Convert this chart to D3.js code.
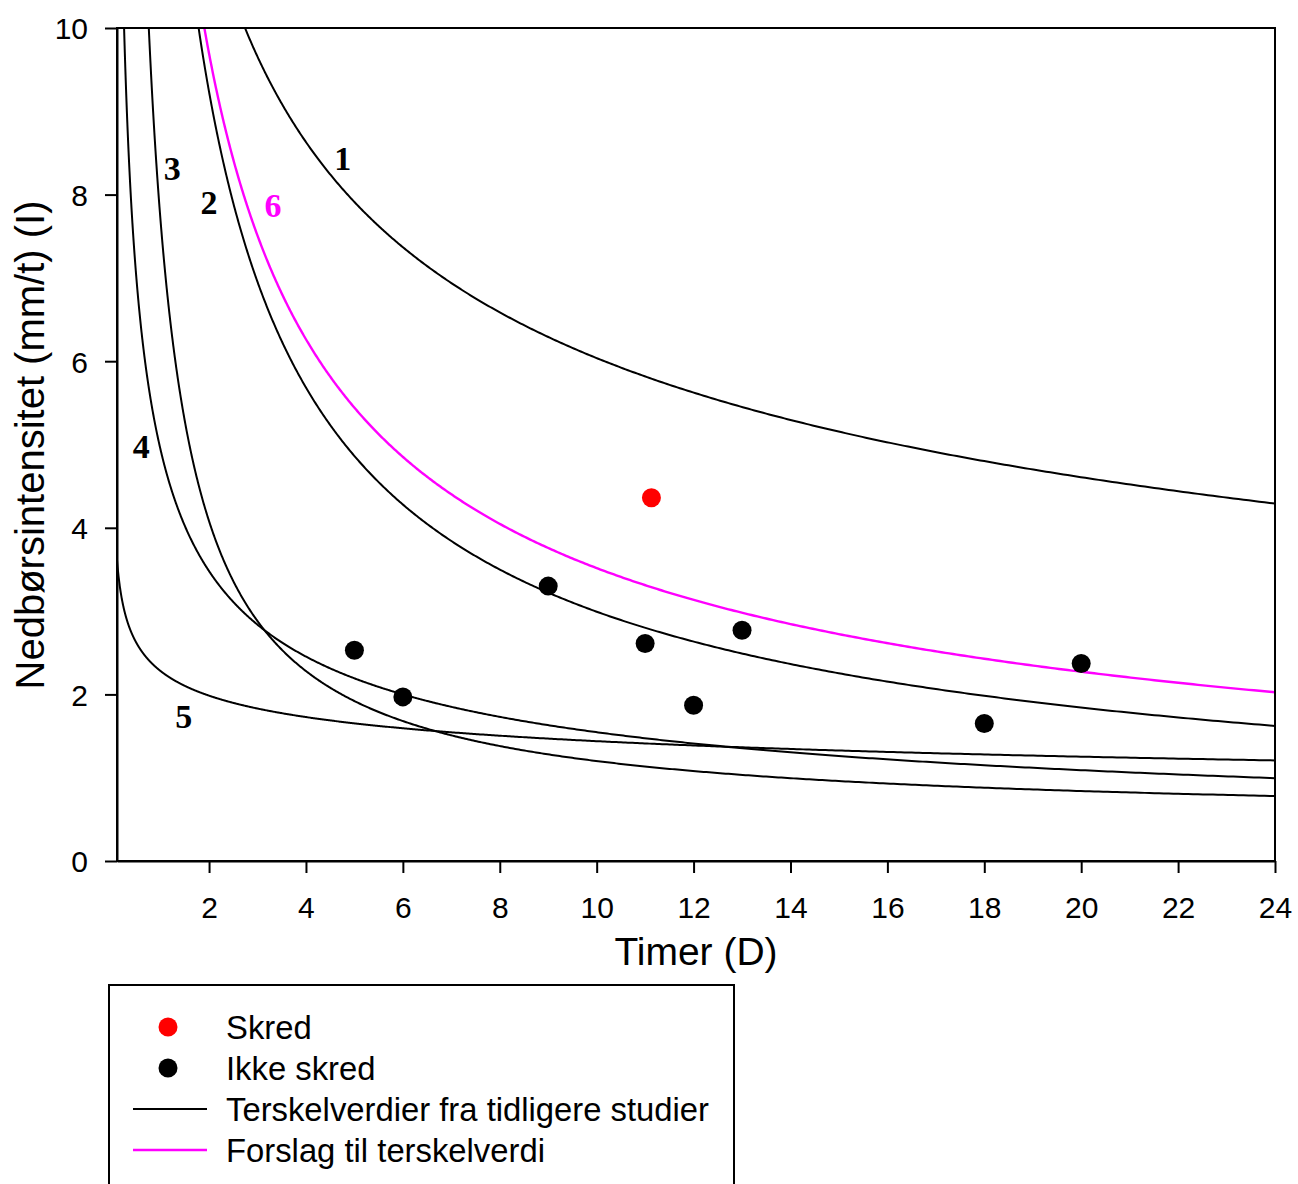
<!DOCTYPE html>
<html>
<head>
<meta charset="utf-8">
<script src="https://cdn.jsdelivr.net/npm/d3@7"></script>
<style>
  html, body { margin: 0; padding: 0; background: #fff; }
  svg { display: block; }
</style>
</head>
<body>
<svg id="chart" width="1298" height="1184"></svg>
<script>
// ---- data ----
const xTickValues = [2, 4, 6, 8, 10, 12, 14, 16, 18, 20, 22, 24];
const yTickValues = [0, 2, 4, 6, 8, 10];

// threshold curves: I = c + a * D^(-b)
const curveIds = ["1", "2", "3", "4", "5", "6"];
const curveA = [14.82, 15, 7.2, 4.935, 2.28, 15];
const curveB = [0.39, 0.7, 1.0, 0.504, 0.20, 0.63];
const curveC = [0, 0, 0.48, 0, 0, 0];
const curveProposed = [false, false, false, false, false, true];

// curve label positions (D, I)
const labelD = [4.76, 2.0, 1.24, 0.60, 1.48, 3.32];
const labelI = [8.43, 7.9, 8.32, 4.98, 1.74, 7.875];

// observations
const skredD = [11.13];
const skredI = [4.36];
const ikkeD = [5, 6, 9, 11, 12, 13, 18, 20];
const ikkeI = [2.53, 1.97, 3.30, 2.61, 1.87, 2.77, 1.65, 2.37];

const legendLabels = ["Skred", "Ikke skred", "Terskelverdier fra tidligere studier", "Forslag til terskelverdi"];

// ---- drawing ----
const svg = d3.select("#chart");
const L = 117, R = 1275, T = 28, B = 861;
const x = d3.scaleLinear().domain([0.1, 24]).range([L, R]);
const y = d3.scaleLinear().domain([0, 10]).range([B, T]);

svg.append("defs").append("clipPath").attr("id", "clip")
  .append("rect").attr("x", L).attr("y", T).attr("width", R - L).attr("height", B - T);

const sampleD = d3.range(0, 1201).map(i => 0.1 * Math.pow(240, i / 1200));
const line = d3.line().x(d => x(d[0])).y(d => y(d[1]));

const plot = svg.append("g").attr("clip-path", "url(#clip)");
curveIds.forEach((id, k) => {
  const pts = sampleD.map(D => [D, Math.min(12, curveC[k] + curveA[k] * Math.pow(D, -curveB[k]))]);
  plot.append("path")
    .attr("d", line(pts))
    .attr("fill", "none")
    .attr("stroke", curveProposed[k] ? "#ff00ff" : "#000")
    .attr("stroke-width", curveProposed[k] ? 2.4 : 2);
});

// points
plot.selectAll("circle.ikke").data(ikkeD).join("circle")
  .attr("class", "ikke")
  .attr("cx", (d) => x(d)).attr("cy", (d, i) => y(ikkeI[i])).attr("r", 9.5).attr("fill", "#000");
plot.selectAll("circle.skred").data(skredD).join("circle")
  .attr("class", "skred")
  .attr("cx", (d) => x(d)).attr("cy", (d, i) => y(skredI[i])).attr("r", 9.5).attr("fill", "#ff0000");

// curve labels
svg.selectAll("text.clabel").data(curveIds).join("text")
  .attr("class", "clabel")
  .attr("x", (d, i) => x(labelD[i]))
  .attr("y", (d, i) => y(labelI[i]))
  .attr("dy", "0.34em")
  .attr("text-anchor", "middle")
  .attr("font-family", "'Liberation Serif', 'Times New Roman', serif")
  .attr("font-weight", "bold")
  .attr("font-size", 34)
  .attr("fill", (d, i) => curveProposed[i] ? "#ff00ff" : "#000")
  .text(d => d);

// frame
svg.append("rect").attr("x", L).attr("y", T).attr("width", R - L).attr("height", B - T)
  .attr("fill", "none").attr("stroke", "#000").attr("stroke-width", 2);

// axes
const xAxis = d3.axisBottom(x).tickValues(xTickValues).tickSize(12).tickSizeOuter(0).tickPadding(24);
const gx = svg.append("g").attr("transform", `translate(0,${B})`).call(xAxis);
const yAxis = d3.axisLeft(y).tickValues(yTickValues).tickSize(12).tickSizeOuter(0).tickPadding(17);
const gy = svg.append("g").attr("transform", `translate(${L},0)`).call(yAxis);
[gx, gy].forEach(g => {
  g.select(".domain").attr("stroke", "#000").attr("stroke-width", 2);
  g.selectAll(".tick line").attr("stroke", "#000").attr("stroke-width", 2);
  g.selectAll(".tick text").attr("fill", "#000")
    .attr("font-family", "'Liberation Sans', Arial, sans-serif").attr("font-size", 30);
});
gy.selectAll(".tick text").attr("dy", "0.36em");

// axis titles
svg.append("text").attr("x", 696).attr("y", 965)
  .attr("text-anchor", "middle")
  .attr("font-family", "'Liberation Sans', Arial, sans-serif").attr("font-size", 39)
  .text("Timer (D)");
svg.append("text")
  .attr("transform", `translate(44,445) rotate(-90)`)
  .attr("text-anchor", "middle")
  .attr("font-family", "'Liberation Sans', Arial, sans-serif").attr("font-size", 40)
  .text("Nedbørsintensitet (mm/t) (I)");

// legend
const lg = svg.append("g");
lg.append("rect").attr("x", 109).attr("y", 985).attr("width", 625).attr("height", 230)
  .attr("fill", "none").attr("stroke", "#000").attr("stroke-width", 2);
const rowY = [1027, 1068, 1109, 1150];
lg.append("circle").attr("cx", 168).attr("cy", rowY[0]).attr("r", 9.5).attr("fill", "#ff0000");
lg.append("circle").attr("cx", 168).attr("cy", rowY[1]).attr("r", 9.5).attr("fill", "#000");
lg.append("line").attr("x1", 133).attr("x2", 207).attr("y1", rowY[2]).attr("y2", rowY[2])
  .attr("stroke", "#000").attr("stroke-width", 2);
lg.append("line").attr("x1", 133).attr("x2", 207).attr("y1", rowY[3]).attr("y2", rowY[3])
  .attr("stroke", "#ff00ff").attr("stroke-width", 2.4);
lg.selectAll("text.leg").data(legendLabels).join("text")
  .attr("class", "leg")
  .attr("x", 226).attr("y", (d, i) => rowY[i]).attr("dy", "0.36em")
  .attr("font-family", "'Liberation Sans', Arial, sans-serif").attr("font-size", 32.8)
  .text(d => d);
</script>
</body>
</html>
